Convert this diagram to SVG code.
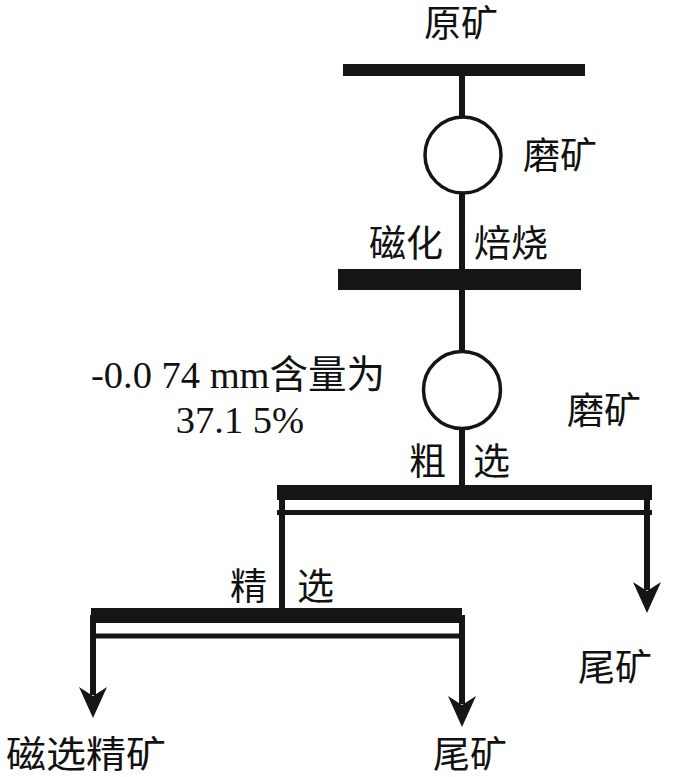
<svg xmlns="http://www.w3.org/2000/svg" width="700" height="777" viewBox="0 0 700 777">
<style>
.t{font-family:"Liberation Serif","Noto Sans CJK SC",serif;font-size:37px;fill:#111}
.n{font-family:"Liberation Serif","Noto Sans CJK SC",serif;font-size:38.5px;fill:#111}
.bar{fill:#151515}
.ln{stroke:#151515;stroke-width:6;fill:none}
.thin{stroke:#151515;stroke-width:5;fill:none}
.mill{fill:#fff;stroke:#151515;stroke-width:3.5}
</style>
<defs>
<marker id="ah" markerUnits="userSpaceOnUse" markerWidth="34" markerHeight="32" viewBox="0 -16 34 32" refX="8" refY="0" orient="auto">
<path d="M31,0 L0,-14 L9,0 L0,14 Z" fill="#151515"/>
</marker>
</defs>
<g id="connectors">
<line class="ln" x1="462" y1="70" x2="462" y2="485"/>
<line class="ln" x1="282" y1="492" x2="282" y2="610"/>
<line class="ln" x1="647" y1="492" x2="647" y2="590" marker-end="url(#ah)"/>
<line class="thin" x1="277" y1="512.5" x2="652" y2="512.5"/>
<line class="ln" x1="93" y1="615" x2="93" y2="695" marker-end="url(#ah)"/>
<line class="ln" x1="462" y1="615" x2="462" y2="704" marker-end="url(#ah)"/>
<line class="thin" x1="90" y1="636" x2="465" y2="636"/>
</g>
<g id="feed">
<text class="t" x="461" y="37" text-anchor="middle">原矿</text>
<rect class="bar" x="343" y="64" width="242" height="12"/>
</g>
<g id="mill1">
<circle class="mill" cx="463" cy="155" r="38"/>
<text class="t" x="523" y="169">磨矿</text>
</g>
<g id="roast">
<text class="t" x="369" y="257">磁化</text>
<text class="t" x="474" y="257">焙烧</text>
<rect class="bar" x="338" y="269" width="243" height="21"/>
</g>
<g id="mill2">
<circle class="mill" cx="462" cy="390" r="38.5"/>
<text class="t" x="567" y="424">磨矿</text>
<text class="n" x="238" y="388" text-anchor="middle">-0.0 74 mm含量为</text>
<text class="n" x="240" y="433" text-anchor="middle">37.1 5%</text>
</g>
<g id="rougher">
<text class="t" x="409" y="475">粗</text>
<text class="t" x="473" y="475">选</text>
<rect class="bar" x="277" y="485" width="375" height="15"/>
</g>
<g id="tail1">
<text class="t" x="578" y="681">尾矿</text>
</g>
<g id="cleaner">
<text class="t" x="230" y="600">精</text>
<text class="t" x="297" y="600">选</text>
<rect class="bar" x="91" y="608" width="371" height="15"/>
</g>
<g id="concentrate">
<text class="t" x="6" y="768" textLength="160" lengthAdjust="spacingAndGlyphs">磁选精矿</text>
</g>
<g id="tail2">
<text class="t" x="433" y="768">尾矿</text>
</g>
</svg>
